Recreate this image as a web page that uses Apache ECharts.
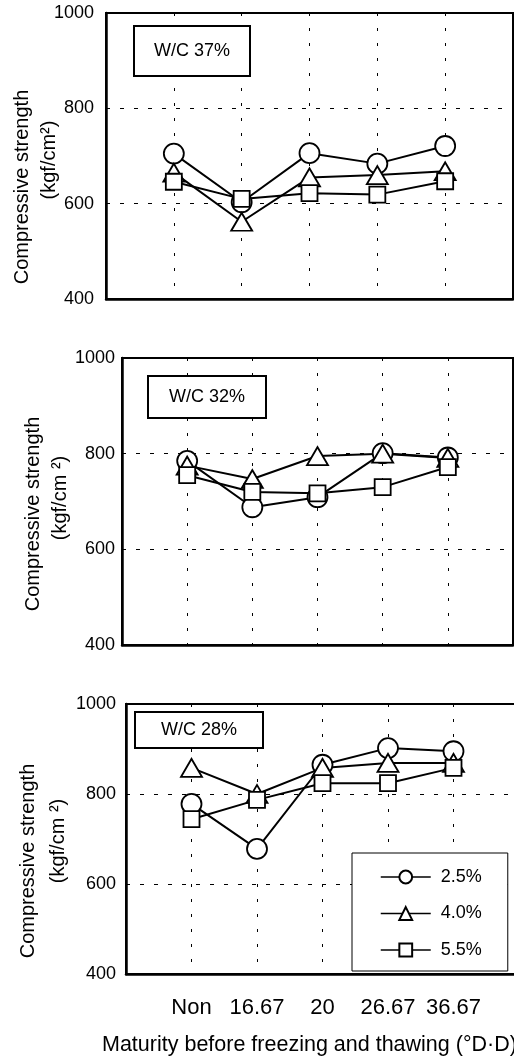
<!DOCTYPE html>
<html>
<head>
<meta charset="utf-8">
<script src="https://cdn.jsdelivr.net/npm/echarts@6/dist/echarts.min.js"></script>
<style>
html,body{margin:0;padding:0;background:#fff;}
#chart{width:514px;height:1057px;}
</style>
</head>
<body>
<div id="chart"></div>
<script>
// ---- data ----
var categories = ['Non', '16.67', '20', '26.67', '36.67'];
var seriesNames = ['2.5%', '4.0%', '5.5%'];
var panelTitles = ['W/C 37%', 'W/C 32%', 'W/C 28%'];
var yTicks = [400, 600, 800, 1000];

var wc37_25 = [705, 603, 706, 684, 721];
var wc37_40 = [665, 562, 655, 660, 668];
var wc37_55 = [646, 610, 622, 619, 647];

var wc32_25 = [785, 688, 709, 801, 792];
var wc32_40 = [775, 747, 795, 800, 791];
var wc32_55 = [755, 720, 717, 730, 772];

var wc28_25 = [778, 678, 865, 902, 895];
var wc28_40 = [858, 800, 858, 869, 869];
var wc28_55 = [744, 787, 824, 824, 858];

var panels = [
  [wc37_25, wc37_40, wc37_55],
  [wc32_25, wc32_40, wc32_55],
  [wc28_25, wc28_40, wc28_55]
];

// ---- layout ----
var FONT = '"Liberation Sans", Arial, Helvetica, sans-serif';
var xCats = [''].concat(categories, [' ']);
var grids = [
  {left: 106, top: 13, width: 407, height: 286, labelMargin: 12},
  {left: 122, top: 358, width: 391, height: 287, labelMargin: 7},
  {left: 126, top: 704, width: 393, height: 270, labelMargin: 10}
];
var titleBoxes = [
  {left: 134, top: 26, padding: [16, 20]},
  {left: 148, top: 376, padding: [12, 21]},
  {left: 135, top: 712, padding: [9, 26]}
];
var symbols = ['circle', 'triangle', 'rect'];
var symbolSizes = [20, [21, 18], 16];

var option = {
  animation: false,
  backgroundColor: '#fff',
  textStyle: {fontFamily: FONT, color: '#000'},
  grid: [],
  xAxis: [],
  yAxis: [],
  title: [],
  series: [],
  legend: {
    data: seriesNames,
    orient: 'vertical',
    left: 352,
    top: 853,
    padding: [15, 26, 12, 28],
    itemWidth: 50,
    itemHeight: 16,
    itemGap: 18.5,
    borderColor: '#000',
    borderWidth: 1,
    backgroundColor: '#fff',
    textStyle: {fontFamily: FONT, fontSize: 18, color: '#000', padding: [0, 0, 0, 5]},
    lineStyle: {width: 1.5},
    selectedMode: false
  },
  graphic: []
};

grids.forEach(function (g, gi) {
  option.grid.push({left: g.left, top: g.top, width: g.width, height: g.height,
    show: true, borderColor: '#000', borderWidth: 2, containLabel: false, outerBoundsMode: 'none'});
  option.xAxis.push({
    type: 'category', gridIndex: gi, data: xCats, boundaryGap: false,
    axisLine: {show: true, lineStyle: {color: '#000', width: 2.5}},
    axisTick: {show: false},
    axisLabel: {show: gi === 2, interval: 0, fontSize: 22, color: '#000', margin: 23, fontFamily: FONT},
    splitLine: {show: true, interval: 0, lineStyle: {color: '#000', width: 1, type: [3, 12]}}
  });
  option.yAxis.push({
    type: 'value', gridIndex: gi, min: yTicks[0], max: yTicks[yTicks.length - 1], interval: 200,
    axisLine: {show: true, lineStyle: {color: '#000', width: 2.5}},
    axisTick: {show: true, inside: true, length: 4, lineStyle: {color: '#000', width: 1}},
    axisLabel: {fontSize: 18, color: '#000', margin: g.labelMargin, fontFamily: FONT,
      formatter: function (v) { return String(v); }},
    splitLine: {show: true, lineStyle: {color: '#000', width: 1, type: [4, 10]}}
  });
  option.title.push({
    text: panelTitles[gi], left: titleBoxes[gi].left, top: titleBoxes[gi].top,
    padding: titleBoxes[gi].padding, borderColor: '#000', borderWidth: 2, backgroundColor: '#fff',
    textStyle: {fontFamily: FONT, fontSize: 18, fontWeight: 'normal', color: '#000'}
  });
  panels[gi].forEach(function (vals, si) {
    option.series.push({
      name: seriesNames[si], type: 'line', xAxisIndex: gi, yAxisIndex: gi,
      data: categories.map(function (c, i) { return [c, vals[i]]; }),
      symbol: symbols[si], symbolSize: symbolSizes[si], showAllSymbol: true,
      lineStyle: {color: '#000', width: 2},
      itemStyle: {color: '#fff', borderColor: '#000', borderWidth: 1.8},
      emphasis: {disabled: true}
    });
  });
});

// y-axis names (two rotated lines per panel)
var yNames = [
  {l1: [22, 187], l2: [49, 160], t2: '(kgf/cm\u00b2)'},
  {l1: [33, 514], l2: [60, 498], t2: '(kgf/cm \u00b2)'},
  {l1: [28, 861], l2: [58, 841], t2: '(kgf/cm \u00b2)'}
];
yNames.forEach(function (n) {
  option.graphic.push({type: 'text', x: n.l1[0], y: n.l1[1], rotation: Math.PI / 2,
    style: {text: 'Compressive strength', font: '20px ' + FONT, fill: '#000', textAlign: 'center', textVerticalAlign: 'middle'}});
  option.graphic.push({type: 'text', x: n.l2[0], y: n.l2[1], rotation: Math.PI / 2,
    style: {text: n.t2, font: '20px ' + FONT, fill: '#000', textAlign: 'center', textVerticalAlign: 'middle'}});
});
option.graphic.push({type: 'text', x: 102, y: 1045,
  style: {text: 'Maturity before freezing and thawing (\u00b0D\u00b7D)', font: '21.5px ' + FONT, fill: '#000', textAlign: 'left', textVerticalAlign: 'middle'}});

var chart = echarts.init(document.getElementById('chart'), null, {renderer: 'canvas'});
chart.setOption(option);
</script>
</body>
</html>
